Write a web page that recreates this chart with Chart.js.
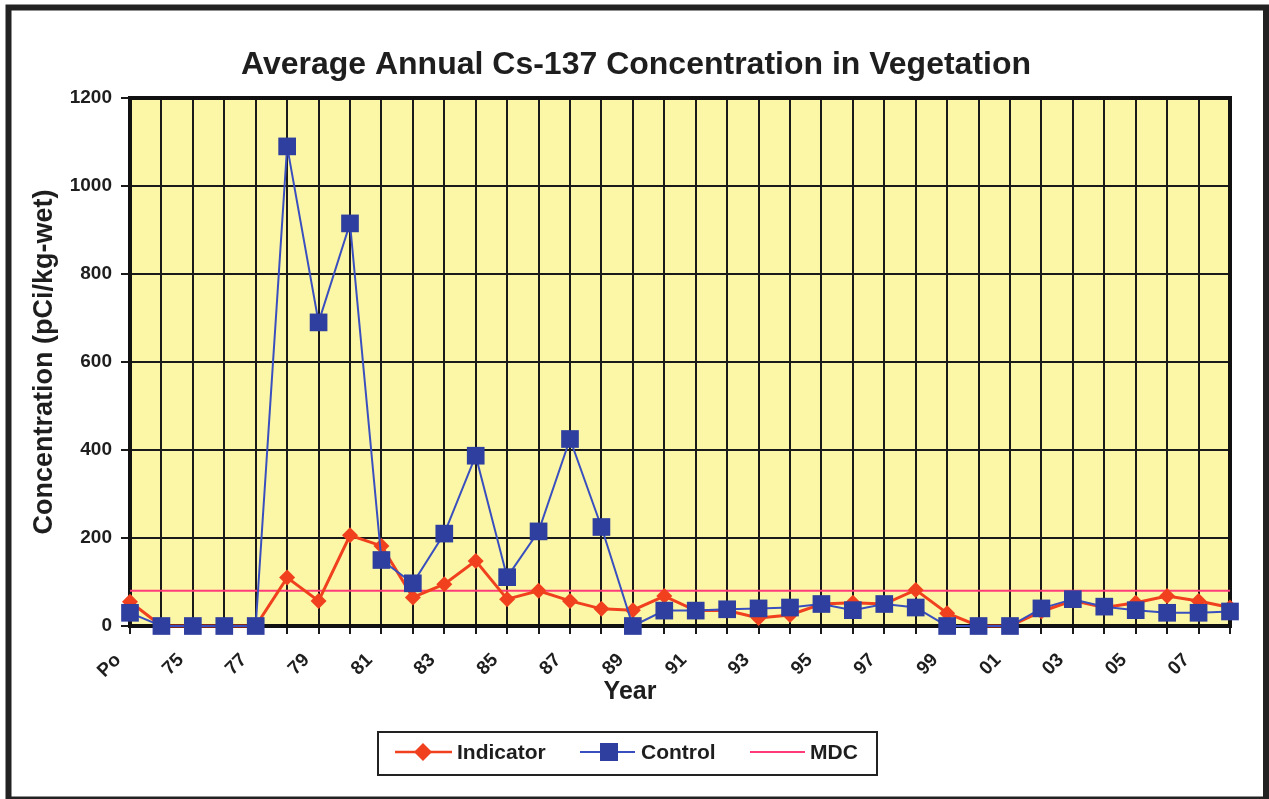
<!DOCTYPE html>
<html>
<head>
<meta charset="utf-8">
<script src="https://cdn.jsdelivr.net/npm/chart.js@4.4.1/dist/chart.umd.min.js"></script>
<style>
html,body{margin:0;padding:0;background:#fff;}
#wrap{width:1269px;height:799px;}
</style>
</head>
<body>
<div id="wrap"><canvas id="c" width="1269" height="799"></canvas></div>
<script>
const categories = ['Po','74','75','76','77','78','79','80','81','82','83','84','85','86','87','88','89','90','91','92','93','94','95','96','97','98','99','00','01','02','03','04','05','06','07','08'];
const indicator = [55,0,0,0,0,110,57,206,182,65,95,148,61,80,57,39,36,68,35,35,18,25,50,53,50,82,29,0,0,33,58,42,53,68,57,42];
const control = [30,0,0,0,0,1090,690,915,150,97,210,387,111,215,425,225,0,35,35,38,40,42,50,36,50,42,0,0,0,40,61,44,36,30,30,33];
const mdc = [80,80,80,80,80,80,80,80,80,80,80,80,80,80,80,80,80,80,80,80,80,80,80,80,80,80,80,80,80,80,80,80,80,80,80,80];
const yTicks = [0,200,400,600,800,1000,1200];

const FONT = "'Liberation Sans', Arial, Helvetica, sans-serif";
const RED = '#f0401e';
const BLUE = '#2f3f9f';
const BLUE_LINE = '#3a4fbf';
const PINK = '#ff3c78';
const TXT = '#1e1e1e';

const decor = {
  id: 'decor',
  beforeDraw(chart) {
    const {ctx, chartArea: a} = chart;
    ctx.save();
    ctx.fillStyle = '#ffffff';
    ctx.fillRect(0, 0, chart.width, chart.height);
    ctx.fillStyle = '#fbf7a6';
    ctx.fillRect(a.left, a.top, a.right - a.left, a.bottom - a.top);
    ctx.restore();
  },
  beforeDatasetsDraw(chart) {
    const {ctx, chartArea: a} = chart;
    ctx.save();
    ctx.strokeStyle = '#111';
    ctx.lineWidth = 4;
    ctx.strokeRect(a.left, a.top, a.right - a.left, a.bottom - a.top);
    ctx.restore();
  },
  afterDraw(chart) {
    const {ctx} = chart;
    ctx.save();
    // outer frame
    ctx.strokeStyle = '#222';
    ctx.lineWidth = 6;
    ctx.strokeRect(8.5, 7.5, 1257.5, 792);
    // title
    ctx.fillStyle = TXT;
    ctx.textAlign = 'center';
    ctx.textBaseline = 'middle';
    ctx.font = 'bold 32px ' + FONT;
    ctx.fillText('Average Annual Cs-137 Concentration in Vegetation', 636, 65);
    // x title
    ctx.font = 'bold 25px ' + FONT;
    ctx.fillText('Year', 630, 692);
    // legend
    ctx.strokeStyle = '#222';
    ctx.lineWidth = 2;
    ctx.strokeRect(378, 732, 499, 43);
    const ly = 752;
    ctx.font = 'bold 21px ' + FONT;
    ctx.textAlign = 'left';
    // Indicator
    ctx.strokeStyle = RED; ctx.lineWidth = 2.5;
    ctx.beginPath(); ctx.moveTo(395, ly); ctx.lineTo(452, ly); ctx.stroke();
    ctx.fillStyle = RED;
    ctx.beginPath(); ctx.moveTo(423, ly - 9); ctx.lineTo(432, ly); ctx.lineTo(423, ly + 9); ctx.lineTo(414, ly); ctx.closePath(); ctx.fill();
    ctx.fillStyle = TXT; ctx.fillText('Indicator', 457, ly + 1);
    // Control
    ctx.strokeStyle = BLUE_LINE; ctx.lineWidth = 2;
    ctx.beginPath(); ctx.moveTo(580, ly); ctx.lineTo(635, ly); ctx.stroke();
    ctx.fillStyle = BLUE; ctx.fillRect(600, ly - 9, 18, 18);
    ctx.fillStyle = TXT; ctx.fillText('Control', 641, ly + 1);
    // MDC
    ctx.strokeStyle = PINK; ctx.lineWidth = 2;
    ctx.beginPath(); ctx.moveTo(750, ly); ctx.lineTo(805, ly); ctx.stroke();
    ctx.fillStyle = TXT; ctx.fillText('MDC', 810, ly + 1);
    ctx.restore();
  }
};

new Chart(document.getElementById('c'), {
  type: 'line',
  data: {
    labels: categories,
    datasets: [
      {label: 'Control', data: control, order: 0, borderColor: BLUE_LINE, backgroundColor: BLUE,
       borderWidth: 2, pointStyle: 'rect', pointRadius: 12.5, pointBackgroundColor: BLUE, pointBorderColor: BLUE,
       pointBorderWidth: 0, tension: 0, clip: false},
      {label: 'Indicator', data: indicator, order: 1, borderColor: RED, backgroundColor: RED,
       borderWidth: 3, pointStyle: 'rectRot', pointRadius: 8, pointBackgroundColor: RED, pointBorderColor: RED,
       pointBorderWidth: 0, tension: 0, clip: false},
      {label: 'MDC', data: mdc, order: 2, borderColor: PINK, borderWidth: 2, pointRadius: 0, tension: 0, clip: false}
    ]
  },
  options: {
    responsive: false,
    animation: false,
    events: [],
    layout: {padding: {left: 0, right: 39, top: 98, bottom: 88}},
    plugins: {legend: {display: false}, title: {display: false}, tooltip: {enabled: false}},
    scales: {
      x: {
        type: 'category',
        offset: false,
        afterFit(s) { s.height = 85; },
        border: {display: false},
        grid: {color: '#1a1a1a', lineWidth: 2, tickLength: 8, tickColor: '#1a1a1a', drawOnChartArea: true},
        ticks: {
          autoSkip: false, minRotation: 45, maxRotation: 45, padding: 15, labelOffset: -12,
          color: TXT, font: {family: FONT, size: 19, weight: 'bold'},
          callback(v, i) { return i % 2 === 0 ? categories[i] : ''; }
        }
      },
      y: {
        min: 0, max: 1200,
        afterFit(s) { s.width = 130; },
        afterBuildTicks(s) { s.ticks = yTicks.map(v => ({value: v})); },
        border: {display: false},
        grid: {color: '#1a1a1a', lineWidth: 2, tickLength: 9, tickColor: '#1a1a1a'},
        ticks: {color: TXT, padding: 9, font: {family: FONT, size: 19, weight: 'bold'},
                callback(v) { return String(v); }},
        title: {display: true, text: 'Concentration (pCi/kg-wet)', color: TXT,
                font: {family: FONT, size: 27, weight: 'bold'}, padding: {top: 28, bottom: 0}}
      }
    }
  },
  plugins: [decor]
});
</script>
</body>
</html>
